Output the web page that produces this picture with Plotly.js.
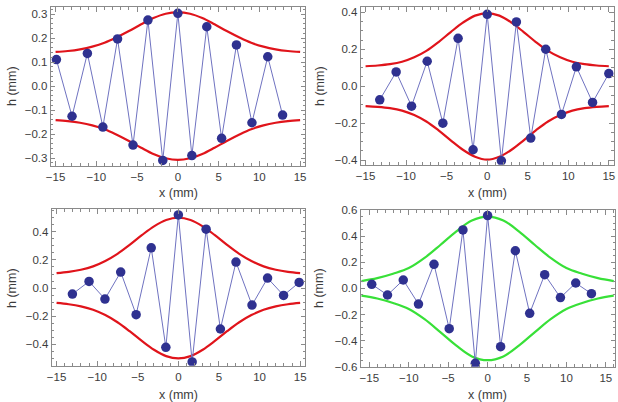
<!DOCTYPE html>
<html>
<head>
<meta charset="utf-8">
<script src="https://cdn.plot.ly/plotly-3.0.1.min.js"></script>
<style>
  html, body { margin: 0; padding: 0; background: #fff; }
  #chart { width: 618px; height: 402px; }
</style>
</head>
<body>
<div id="chart"></div>
<script>
// Measured surface heights h (mm) against position x (mm), four runs
const x1 = [-14.9, -12.98, -11.1, -9.2, -7.4, -5.5, -3.67, -1.85, 0, 1.72, 3.55, 5.37, 7.19, 9.09, 11.03, 12.85];
const h1 = [0.110, -0.126, 0.136, -0.171, 0.196, -0.246, 0.275, -0.310, 0.303, -0.290, 0.247, -0.218, 0.171, -0.153, 0.122, -0.121];

const x2 = [-13.25, -11.23, -9.33, -7.40, -5.47, -3.59, -1.74, 0, 1.75, 3.60, 5.37, 7.22, 9.16, 11.0, 12.99, 15.0];
const h2 = [-0.074, 0.077, -0.108, 0.135, -0.200, 0.259, -0.344, 0.389, -0.404, 0.348, -0.281, 0.200, -0.153, 0.105, -0.088, 0.068];

const x3 = [-13.05, -11.0, -9.04, -7.1, -5.2, -3.34, -1.54, 0, 1.7, 3.42, 5.18, 7.1, 9.07, 10.99, 12.96, 14.88];
const h3 = [-0.043, 0.047, -0.078, 0.114, -0.189, 0.286, -0.421, 0.520, -0.525, 0.419, -0.291, 0.185, -0.121, 0.071, -0.052, 0.040];

const x4 = [-14.7, -12.7, -10.7, -8.77, -6.8, -4.87, -3.13, -1.56, 0, 1.65, 3.52, 5.34, 7.24, 9.24, 11.18, 13.17];
const h4 = [0.031, -0.051, 0.064, -0.120, 0.184, -0.309, 0.447, -0.574, 0.557, -0.447, 0.288, -0.191, 0.105, -0.071, 0.041, -0.041];

// Envelope curves (upper and lower bounds)
const envX = [-15, -13.5, -12, -10.5, -9, -7.5, -6, -4.5, -3, -1.5, 0, 1.5, 3, 4.5, 6, 7.5, 9, 10.5, 12, 13.5, 15];
const env1Up = [0.142, 0.146, 0.153, 0.164, 0.180, 0.203, 0.229, 0.257, 0.283, 0.301, 0.307, 0.301, 0.283, 0.257, 0.229, 0.203, 0.180, 0.164, 0.153, 0.146, 0.142];
const env1Lo = [-0.142, -0.146, -0.153, -0.164, -0.180, -0.203, -0.229, -0.257, -0.283, -0.301, -0.308, -0.301, -0.283, -0.257, -0.229, -0.203, -0.180, -0.164, -0.153, -0.146, -0.142];
const env2Up = [0.108, 0.112, 0.119, 0.132, 0.156, 0.191, 0.239, 0.293, 0.344, 0.382, 0.396, 0.382, 0.344, 0.293, 0.239, 0.191, 0.156, 0.132, 0.119, 0.112, 0.108];
const env2Lo = [-0.108, -0.112, -0.119, -0.132, -0.156, -0.191, -0.239, -0.293, -0.344, -0.382, -0.398, -0.382, -0.344, -0.293, -0.239, -0.191, -0.156, -0.132, -0.119, -0.112, -0.108];
const env3Up = [0.106, 0.115, 0.130, 0.154, 0.192, 0.243, 0.307, 0.376, 0.439, 0.484, 0.500, 0.484, 0.439, 0.376, 0.307, 0.243, 0.192, 0.154, 0.130, 0.115, 0.106];
const env3Lo = [-0.106, -0.115, -0.130, -0.154, -0.192, -0.243, -0.307, -0.376, -0.439, -0.484, -0.500, -0.484, -0.439, -0.376, -0.307, -0.243, -0.192, -0.154, -0.130, -0.115, -0.106];
const envX4 = [-16, -14, -12, -10, -8, -6, -4, -2, 0, 2, 4, 6, 8, 10, 12, 14, 16];
const env4Up = [0.056, 0.078, 0.112, 0.155, 0.233, 0.332, 0.435, 0.520, 0.550, 0.520, 0.435, 0.332, 0.233, 0.155, 0.112, 0.078, 0.056];
const env4Lo = [-0.056, -0.078, -0.112, -0.158, -0.236, -0.335, -0.437, -0.521, -0.550, -0.521, -0.437, -0.335, -0.236, -0.158, -0.112, -0.078, -0.056];

const RED = '#e0141b';
const GREEN = '#38e038';
const DOT = '#2f3190';
const LINK = '#6f72c0';

function envelope(xs, ys, color, n) {
  return {
    x: xs, y: ys, xaxis: 'x' + n, yaxis: 'y' + n, type: 'scatter', mode: 'lines',
    line: { color: color, width: 2.2, shape: 'spline', smoothing: 1.0 },
    hoverinfo: 'skip', showlegend: false
  };
}
function samples(xs, ys, n) {
  return {
    x: xs, y: ys, xaxis: 'x' + n, yaxis: 'y' + n, type: 'scatter', mode: 'lines+markers',
    line: { color: LINK, width: 1 },
    marker: { color: DOT, size: 9.5, line: { width: 0 } },
    showlegend: false
  };
}

const data = [
  envelope(envX, env1Up, RED, ''), envelope(envX, env1Lo, RED, ''), samples(x1, h1, ''),
  envelope(envX, env2Up, RED, 2), envelope(envX, env2Lo, RED, 2), samples(x2, h2, 2),
  envelope(envX, env3Up, RED, 3), envelope(envX, env3Lo, RED, 3), samples(x3, h3, 3),
  envelope(envX4, env4Up, GREEN, 4), envelope(envX4, env4Lo, GREEN, 4), samples(x4, h4, 4)
];

const FRAME = '#8a8a8a';
const TXT = '#3c3c3c';
const FONT = 'Liberation Sans, Arial, sans-serif';

function xAxis(domain, range, anchor) {
  return {
    domain: domain, range: range, anchor: anchor,
    showgrid: false, zeroline: false,
    showline: true, linecolor: FRAME, linewidth: 1, mirror: 'allticks',
    ticks: 'inside', ticklen: 4.5, tickcolor: FRAME, tickwidth: 1,
    tick0: 0, dtick: 5,
    minor: { dtick: 1, ticks: 'inside', ticklen: 2.5, tickcolor: FRAME, tickwidth: 1 },
    tickfont: { family: FONT, size: 11.5, color: TXT }
  };
}
function yAxis(domain, range, anchor, step, minorStep) {
  return {
    domain: domain, range: range, anchor: anchor,
    showgrid: false, zeroline: false,
    showline: true, linecolor: FRAME, linewidth: 1, mirror: 'allticks',
    ticks: 'inside', ticklen: 4.5, tickcolor: FRAME, tickwidth: 1,
    tick0: 0, dtick: step, tickformat: '.1f',
    minor: { dtick: minorStep, ticks: 'inside', ticklen: 2.5, tickcolor: FRAME, tickwidth: 1 },
    tickfont: { family: FONT, size: 11.5, color: TXT }
  };
}

const W = 618, H = 402;
const px = v => v / W;
const py = v => 1 - v / H;

const layout = {
  width: W, height: H,
  margin: { l: 0, r: 0, t: 0, b: 0 },
  paper_bgcolor: '#ffffff', plot_bgcolor: '#ffffff',
  showlegend: false,
  xaxis:  xAxis([px(50.7), px(305)], [-15.6, 15.6], 'y'),
  yaxis:  yAxis([py(165.7), py(7.3)], [-0.332, 0.328], 'x', 0.1, 0.02),
  xaxis2: xAxis([px(360.7), px(613.7)], [-15.6, 15.6], 'y2'),
  yaxis2: yAxis([py(164.7), py(7.3)], [-0.425, 0.427], 'x2', 0.2, 0.05),
  xaxis3: xAxis([px(51.7), px(305)], [-15.6, 15.6], 'y3'),
  yaxis3: yAxis([py(365.7), py(209.3)], [-0.552, 0.56], 'x3', 0.2, 0.05),
  xaxis4: xAxis([px(360.7), px(615.3)], [-16.1, 16.2], 'y4'),
  yaxis4: yAxis([py(366.7), py(210)], [-0.6, 0.6], 'x4', 0.2, 0.05),
  annotations: []
};

// Axis titles
const titleFont = { family: FONT, size: 12.5, color: TXT };
[[178, 193], [487, 193], [178, 395], [487, 395]].forEach(([cx, cy]) => {
  layout.annotations.push({ text: 'x (mm)', xref: 'paper', yref: 'paper', x: px(cx), y: py(cy),
    xanchor: 'center', yanchor: 'middle', showarrow: false, font: titleFont });
});
[[12, 86], [320, 86], [12, 288], [319, 288]].forEach(([cx, cy]) => {
  layout.annotations.push({ text: 'h (mm)', xref: 'paper', yref: 'paper', x: px(cx), y: py(cy),
    xanchor: 'center', yanchor: 'middle', textangle: -90, showarrow: false, font: titleFont });
});

Plotly.newPlot('chart', data, layout, { displayModeBar: false, staticPlot: true });
</script>
</body>
</html>
